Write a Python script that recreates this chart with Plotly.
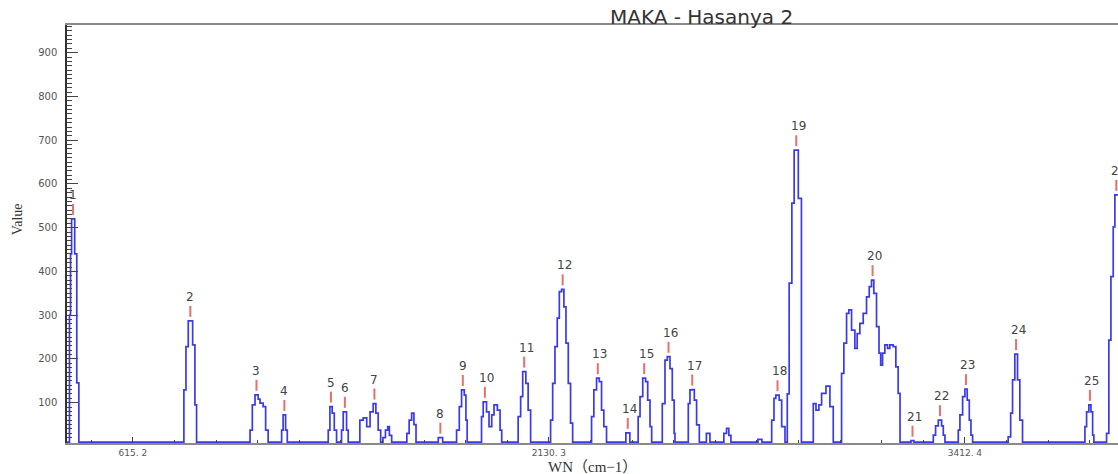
import plotly.graph_objects as go

# ---- spectrum breakpoints (channel index, value) ----
channel = [
    168.0,
    169.5, 170.0, 170.5, 172.0, 173.0, 174.0,
    224.5, 225.5, 226.6, 228.7, 229.8, 230.6,
    256.3, 257.4, 258.7, 260.2, 261.1, 262.6, 263.8, 265.0,
    271.5, 272.2, 273.4, 274.2,
    293.9, 294.7, 295.8, 296.8, 297.9,
    300.3, 301.1, 302.7, 303.5,
    309.1, 310.7, 312.4, 314.0, 315.5, 316.8, 317.9, 319.1,
    320.2, 321.4, 322.5, 323.3, 324.4,
    331.7, 332.8, 334.0, 335.1, 336.1,
    346.8, 348.9,
    355.6, 356.9, 358.0, 359.3, 360.1, 360.7,
    367.6, 368.4, 370.0, 371.2, 372.5, 373.6, 375.2, 376.5, 377.3,
    385.2, 386.4, 387.4, 388.9, 390.0, 391.2,
    400.8, 401.8, 402.9, 404.0, 405.0, 406.1, 407.2, 408.2, 409.3, 410.4, 411.4,
    420.5, 421.6, 422.9, 424.2, 425.3, 426.4, 427.7,
    437.0, 438.9,
    442.9, 443.8, 445.1, 446.5, 447.5, 448.6, 449.4,
    454.5, 455.8, 456.9, 458.2, 459.3, 460.2, 460.6,
    467.0, 467.8, 468.9, 469.9, 471.0, 472.3,
    475.7, 477.4, 484.1, 485.4, 486.5, 487.5, 500.5, 502.4,
    507.1, 508.2, 509.1, 510.7, 511.9, 513.5,
    514.6, 515.5, 516.8, 517.9, 519.9, 521.4,
    527.1, 528.4, 529.8, 531.1, 533.2, 535.1, 536.7,
    540.7, 541.8, 543.1, 544.2, 545.5, 547.1, 548.2, 549.5, 551.1, 552.7, 554.0, 555.1,
    556.2, 557.5, 558.7, 559.5, 560.4, 561.5, 562.8, 563.9, 565.5, 566.8, 567.9, 568.8,
    574.1, 575.5,
    584.8, 585.9, 587.2, 588.8, 589.6, 590.4,
    596.8, 597.6, 598.9, 600.0, 601.1, 602.1, 602.9, 603.7,
    620.8, 622.0, 622.9, 624.0, 625.3, 626.4, 627.7,
    657.7, 658.5, 659.6, 660.6, 661.4, 662.0,
    668.1, 669.2, 670.2, 671.3, 672.1, 675.0,
]
value = [
    10,
    300, 440, 520, 440, 145, 10,
    129, 228, 287, 232, 95, 10,
    37, 95, 118, 108, 99, 91, 37, 10,
    37, 72, 37, 10,
    37, 91, 76, 37, 10,
    37, 79, 37, 10,
    60, 65, 45, 79, 98, 76, 37, 10,
    20, 37, 45, 25, 10,
    30, 60, 76, 50, 10,
    20, 10,
    37, 91, 129, 117, 60, 10,
    68, 102, 79, 45, 72, 95, 83, 37, 10,
    68, 114, 171, 144, 83, 10,
    60, 144, 228, 293, 354, 359, 319, 236, 144, 53, 10,
    68, 129, 156, 148, 83, 45, 10,
    31, 10,
    68, 114, 156, 148, 106, 45, 10,
    98, 197, 205, 178, 106, 30, 10,
    98, 129, 130, 106, 49, 10,
    30, 10, 30, 41, 25, 10, 16, 10,
    60, 110, 117, 106, 45, 10,
    120, 373, 556, 677, 567, 10,
    98, 83, 95, 121, 138, 91, 10,
    167, 236, 304, 312, 266, 224, 258, 281, 304, 342, 365, 380,
    350, 274, 213, 186, 213, 232, 224, 232, 228, 182, 121, 10,
    13, 10,
    26, 47, 60, 47, 26, 10,
    37, 72, 114, 131, 106, 60, 26, 10,
    22, 76, 152, 211, 152, 60, 10,
    45, 79, 95, 79, 26, 10,
    30, 243, 388, 502, 575, 575,
]
assert len(channel) == len(value)

# ---- labelled peaks ----
peak_label = ["1", "2", "3", "4", "5", "6", "7", "8", "9", "10", "11", "12", "13",
              "14", "15", "16", "17", "18", "19", "20", "21", "22", "23", "24", "25", "26"]
peak_channel = [171.2, 227.6, 259.4, 272.8, 295.2, 301.9, 316.1, 347.8, 358.6, 369.2,
                388.1, 406.6, 423.5, 437.9, 445.8, 457.5, 468.9, 509.9, 518.9, 555.6,
                574.8, 588.0, 600.5, 624.6, 660.1, 672.8]
peak_value = [520, 287, 118, 72, 91, 79, 98, 20, 129, 102,
              171, 359, 156, 31, 156, 205, 130, 117, 677, 380,
              13, 60, 131, 211, 95, 575]

# ---- axis ticks ----
tick_channel = [200, 400, 600]
tick_label = ["615. 2", "2130. 3", "3412. 4"]
y_ticks = [100, 200, 300, 400, 500, 600, 700, 800, 900]

fig = go.Figure()
fig.add_trace(go.Scatter(
    x=channel, y=value, mode="lines",
    line=dict(color="rgb(58,58,235)", width=1.7, shape="hv"),
    hoverinfo="skip", showlegend=False,
))

shapes = []
annotations = []
for lab, c, v in zip(peak_label, peak_channel, peak_value):
    shapes.append(dict(
        type="line", xref="x", yref="y", ysizemode="pixel", yanchor=v,
        x0=c, x1=c, y0=4, y1=15,
        line=dict(color="#e8706a", width=2),
    ))
    annotations.append(dict(
        x=c, y=v, xref="x", yref="y", text=lab, showarrow=False,
        yanchor="middle", xanchor="center", yshift=24,
        xshift=2 if len(lab) > 1 else 0,
        font=dict(family="DejaVu Sans", size=12, color="#444444"),
    ))

annotations.append(dict(
    text="MAKA - Hasanya 2", xref="paper", yref="paper",
    x=0.604, y=1.0, xanchor="center", yanchor="bottom", yshift=-6,
    showarrow=False,
    font=dict(family="DejaVu Sans", size=20, color="#333333"),
))
annotations.append(dict(
    text="Value", xref="paper", yref="paper", x=-0.0476, y=0.535,
    xanchor="center", yanchor="middle", textangle=-90, showarrow=False,
    font=dict(family="Liberation Serif", size=14, color="#333333"),
))
annotations.append(dict(
    text="WN（cm−1）", xref="paper", yref="paper", x=0.5, y=-0.058,
    xanchor="center", yanchor="middle", showarrow=False,
    font=dict(family="Liberation Serif, Noto Sans CJK SC", size=15, color="#333333"),
))

fig.update_layout(
    width=1118, height=474,
    margin=dict(l=67, r=0, t=25, b=31, autoexpand=False),
    paper_bgcolor="white", plot_bgcolor="white",
    shapes=shapes, annotations=annotations,
    xaxis=dict(
        range=[168.3, 673.6], showgrid=False, zeroline=False,
        showline=True, linecolor="#8a8a8a", linewidth=1.5, mirror=True,
        tickmode="array", tickvals=tick_channel, ticktext=tick_label,
        ticks="inside", ticklen=6, tickcolor="#444444", tickwidth=1,
        minor=dict(tickmode="linear", tick0=0, dtick=20, ticks="inside",
                   ticklen=3, tickcolor="#444444", showgrid=False),
        tickfont=dict(family="DejaVu Sans", size=9, color="#555555"),
        automargin=False,
    ),
    yaxis=dict(
        range=[7.8, 963.2], showgrid=False, zeroline=False,
        showline=True, linecolor="#333333", linewidth=1.5, mirror=False,
        tickmode="array", tickvals=y_ticks,
        ticks="inside", ticklen=11, tickcolor="#444444", tickwidth=1,
        minor=dict(tickmode="linear", tick0=0, dtick=10, ticks="inside",
                   ticklen=5, tickcolor="#444444", showgrid=False),
        tickfont=dict(family="DejaVu Sans", size=10, color="#555555"),
        ticklabelstandoff=6,
        automargin=False,
    ),
)

fig.write_html(
    "out.html",
    config={"displayModeBar": False},
    post_script="document.body.style.margin='0';document.body.style.overflow='hidden';",
)
